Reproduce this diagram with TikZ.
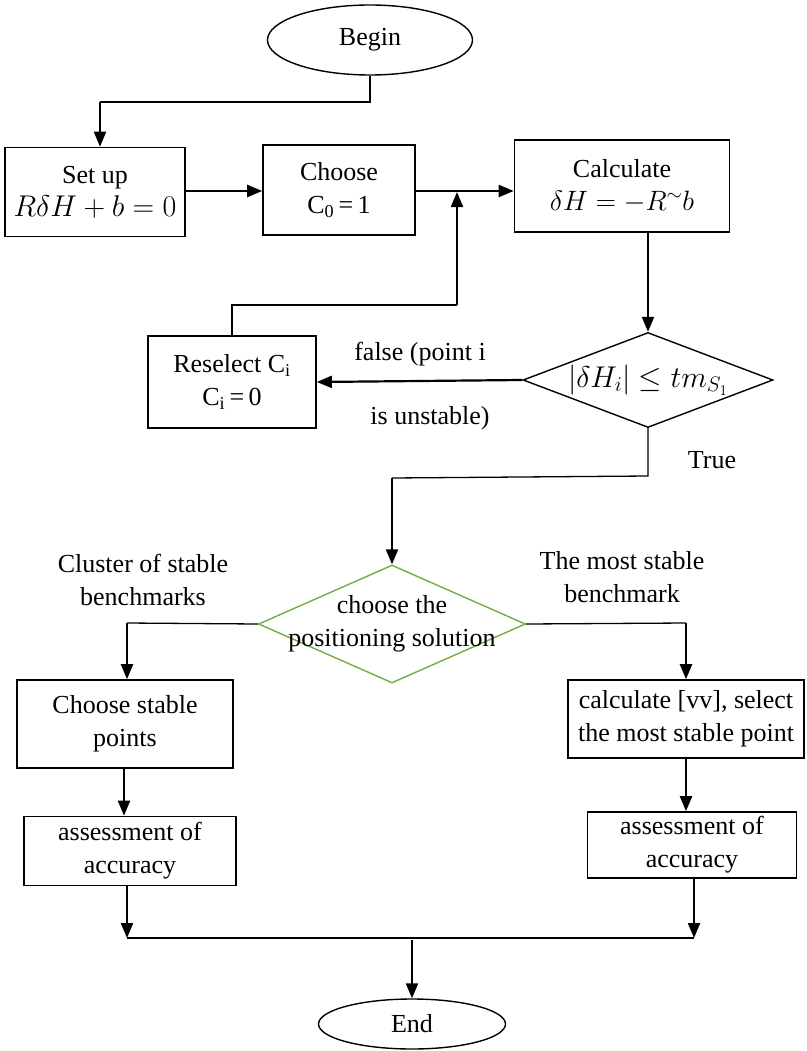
\RequirePackage{fix-cm}
\documentclass[tikz,border=0pt]{standalone}
\usepackage{fontspec}
\setmainfont{Liberation Serif}
\usetikzlibrary{shapes.geometric,arrows.meta}
\definecolor{dgreen}{HTML}{70AD47}
\newcommand{\bigmath}{\fontsize{30}{33}\selectfont}
\begin{document}
\begin{tikzpicture}[x=1pt,y=-1pt,
  every node/.style={font=\fontsize{26}{33}\selectfont},
  box/.style={draw,line width=1.6pt,inner sep=0pt,align=center},
  oval/.style={draw,ellipse,line width=1.4pt,inner sep=0pt},
  dia/.style={draw,diamond,line width=1.4pt,inner sep=0pt},
  arr/.style={line width=2.2pt,-{Triangle[length=15pt,width=12pt]}},
  thin/.style={line width=1.3pt},
  lab/.style={align=center,inner sep=0pt}]
\useasboundingbox (0,0) rectangle (806,1051);
% nodes
\node[oval,minimum width=205,minimum height=70] (begin) at (370,40) {Begin};
\node[box,minimum width=180,minimum height=89] (su) at (95,192) {Set up\\{\bigmath$R\delta H + b = 0$}};
\node[box,minimum width=152,minimum height=90] (ch) at (339,190) {Choose\\C\textsubscript{0}\,=\,1};
\node[box,minimum width=215,minimum height=92] (calc) at (622,186) {Calculate\\{\fontsize{28}{33}\selectfont$\delta H = -R^{\sim} b$}};
\node[dia,minimum width=250,minimum height=95] (d1) at (648,380) {};
\node[lab] at (d1) {\bigmath$|\delta H_i| \le tm_{S_1}$};
\node[box,minimum width=168,minimum height=92] (re) at (232,382) {Reselect C\textsubscript{i}\\C\textsubscript{i}\,=\,0};
\node[dia,draw=dgreen,minimum width=267,minimum height=118] (d2) at (392,624) {};
\node[lab] at (d2) {choose the\\positioning solution};
\node[box,minimum width=216,minimum height=88] (csp) at (125,724) {Choose stable\\points};
\node[box,minimum width=236,minimum height=78] (cvv) at (686,719) {calculate [vv], select\\the most stable point};
\node[box,minimum width=212,minimum height=69] (asl) at (130,851) {assessment of\\accuracy};
\node[box,minimum width=209,minimum height=66] (asr) at (692,845) {assessment of\\accuracy};
\node[oval,minimum width=187,minimum height=50] (end) at (412,1024) {End};
% labels
\node[lab] (lf1) at (420,354) {false (point i};
\node[lab] (lf2) at (430,418) {is unstable)};
\node[lab] (lt) at (712,460) {True};
\node[lab] (lc) at (143,580) {Cluster of stable\\benchmarks};
\node[lab] (lm) at (622,577) {The most stable\\benchmark};
% coordinates
\coordinate (b1) at (370,102);
\coordinate (b2) at (100,102);
\coordinate (j) at (457,192);
\coordinate (r1) at (232,305);
\coordinate (r2) at (457,305);
\coordinate (t1) at (648,476);
\coordinate (t2) at (392,478);
\coordinate (l1) at (127,623);
\coordinate (rr1) at (686,623);
\coordinate (m1) at (127,938);
\coordinate (m2) at (694,938);
\coordinate (m3) at (412,940);
% connectors
\draw[thin] (begin.south) -- (b1) -- (b2);
\draw[arr] (b2) -- (b2 |- su.north);
\draw[arr] (su.east |- 0,191) -- (ch.west |- 0,191);
\draw[arr] (ch.east |- 0,191) -- (calc.west |- 0,191);
\draw[thin] (re.north) -- (r1) -- (r2);
\draw[arr] (r2) -- (j);
\draw[arr] (calc.south -| d1.north) -- (d1.north);
\draw[arr] (d1.west) -- (re.east);
\draw[thin] (d1.south) -- (t1) -- (t2);
\draw[arr] (t2) -- (d2.north);
\draw[thin] (d2.west) -- (l1);
\draw[arr] (l1) -- (l1 |- csp.north);
\draw[thin] (d2.east) -- (rr1);
\draw[arr] (rr1) -- (rr1 |- cvv.north);
\draw[arr] (csp.south -| 124,0) -- (asl.north -| 124,0);
\draw[arr] (cvv.south) -- (asr.north -| cvv.south);
\draw[arr] (asl.south -| m1) -- (m1);
\draw[arr] (asr.south -| m2) -- (m2);
\draw[line width=1.8pt] (m1) -- (m2);
\draw[arr] (m3) -- (end.north);
\end{tikzpicture}
\end{document}
